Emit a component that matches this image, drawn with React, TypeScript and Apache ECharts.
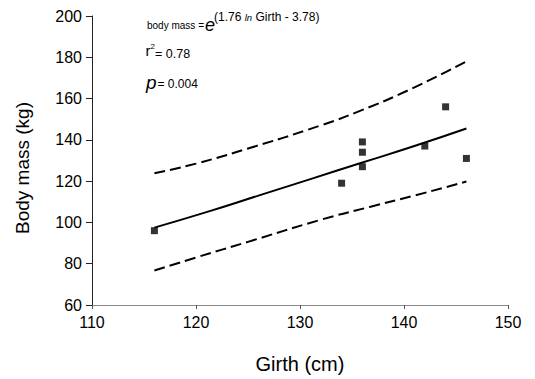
import React, { useEffect, useRef } from "react";
import * as echarts from "echarts";

const girth = [116, 134, 136, 136, 136, 142, 144, 146];
const bodyMass = [96, 119, 139, 134, 127, 137, 156, 131];

const fitX = [116, 121, 126, 131, 136, 141, 146];
const fitY = [97.5, 105, 113, 121, 129, 137, 145.5];

const upperX = [116, 120, 125, 132, 136, 140.4, 146];
const upperY = [123.8, 128.5, 135.8, 147, 154.5, 164, 178];

const lowerX = [116, 120, 125, 132, 136.7, 141, 146];
const lowerY = [76.7, 83, 90.6, 101.3, 107.5, 113, 119.8];

const xTicks = { min: 110, max: 150, interval: 10 };
const yTicks = { min: 60, max: 200, interval: 20 };

const FONT = "'Liberation Sans', Arial, Helvetica, sans-serif";

const zip = (a: number[], b: number[]) => a.map((v, i) => [v, b[i]]);

export default function App() {
  const ref = useRef<HTMLDivElement>(null);
  useEffect(() => {
    if (!ref.current) return;
    const chart = echarts.init(ref.current, null, { renderer: "svg" });
    chart.setOption({
      animation: false,
      backgroundColor: "#ffffff",
      grid: { left: 92, right: 27, top: 16, bottom: 72 },
      xAxis: {
        type: "value",
        min: xTicks.min,
        max: xTicks.max,
        interval: xTicks.interval,
        name: "Girth (cm)",
        nameLocation: "middle",
        nameGap: 49,
        nameTextStyle: { fontFamily: FONT, fontSize: 20, color: "#000" },
        axisLine: { lineStyle: { color: "#888", width: 1 } },
        axisTick: { show: true, length: 4, lineStyle: { color: "#555" } },
        axisLabel: { fontFamily: FONT, fontSize: 16, color: "#000", margin: 9 },
        splitLine: { show: false },
      },
      yAxis: {
        type: "value",
        min: yTicks.min,
        max: yTicks.max,
        interval: yTicks.interval,
        axisLine: { show: true, lineStyle: { color: "#222", width: 1 } },
        axisTick: { show: true, length: 6, lineStyle: { color: "#222" } },
        axisLabel: { fontFamily: FONT, fontSize: 16, color: "#000", margin: 10 },
        splitLine: { show: false },
      },
      graphic: [
        {
          type: "text",
          x: 22,
          y: 168,
          rotation: Math.PI / 2,
          style: {
            text: "Body mass (kg)",
            font: `19px ${FONT}`,
            fill: "#000",
            align: "center",
            verticalAlign: "middle",
          },
        },
        {
          type: "text",
          x: 147,
          y: 25,
          style: { text: "body mass =", font: `10px ${FONT}`, fill: "#000", align: "left", verticalAlign: "middle" },
        },
        {
          type: "text",
          x: 205,
          y: 24.5,
          style: { text: "e", font: `italic 18px ${FONT}`, fill: "#000", align: "left", verticalAlign: "middle" },
        },
        {
          type: "text",
          x: 214,
          y: 17,
          style: {
            text: "{n|(1.76 }{i|ln}{n| Girth - 3.78)}",
            align: "left",
            verticalAlign: "middle",
            rich: {
              n: { font: `12px ${FONT}`, fill: "#000" },
              i: { font: `italic 9.5px ${FONT}`, fill: "#000" },
            },
          },
        },
        {
          type: "text",
          x: 145.5,
          y: 50.5,
          style: { text: "r", font: `15px ${FONT}`, fill: "#000", align: "left", verticalAlign: "middle" },
        },
        {
          type: "text",
          x: 150.5,
          y: 46,
          style: { text: "2", font: `8px ${FONT}`, fill: "#000", align: "left", verticalAlign: "middle" },
        },
        {
          type: "text",
          x: 155,
          y: 54,
          style: { text: "= 0.78", font: `12.5px ${FONT}`, fill: "#000", align: "left", verticalAlign: "middle" },
        },
        {
          type: "text",
          x: 146,
          y: 82,
          style: { text: "p", font: `italic 19px ${FONT}`, fill: "#000", align: "left", verticalAlign: "middle" },
        },
        {
          type: "text",
          x: 157.5,
          y: 84,
          style: { text: "= 0.004", font: `12px ${FONT}`, fill: "#000", align: "left", verticalAlign: "middle" },
        },
      ],
      series: [
        {
          type: "line",
          data: zip(upperX, upperY),
          smooth: true,
          showSymbol: false,
          lineStyle: { color: "#000", width: 2, type: [11, 5] },
          silent: true,
        },
        {
          type: "line",
          data: zip(lowerX, lowerY),
          smooth: true,
          showSymbol: false,
          lineStyle: { color: "#000", width: 2, type: [11, 5] },
          silent: true,
        },
        {
          type: "line",
          data: zip(fitX, fitY),
          smooth: true,
          showSymbol: false,
          lineStyle: { color: "#000", width: 2 },
          silent: true,
        },
        {
          type: "scatter",
          data: zip(girth, bodyMass),
          symbol: "rect",
          symbolSize: 7,
          itemStyle: { color: "#000" },
          z: 5,
        },
      ],
    });
    return () => chart.dispose();
  }, []);
  return (
    <div
      ref={ref}
      style={{ position: "fixed", left: 0, top: 0, width: 535, height: 379 }}
    />
  );
}
